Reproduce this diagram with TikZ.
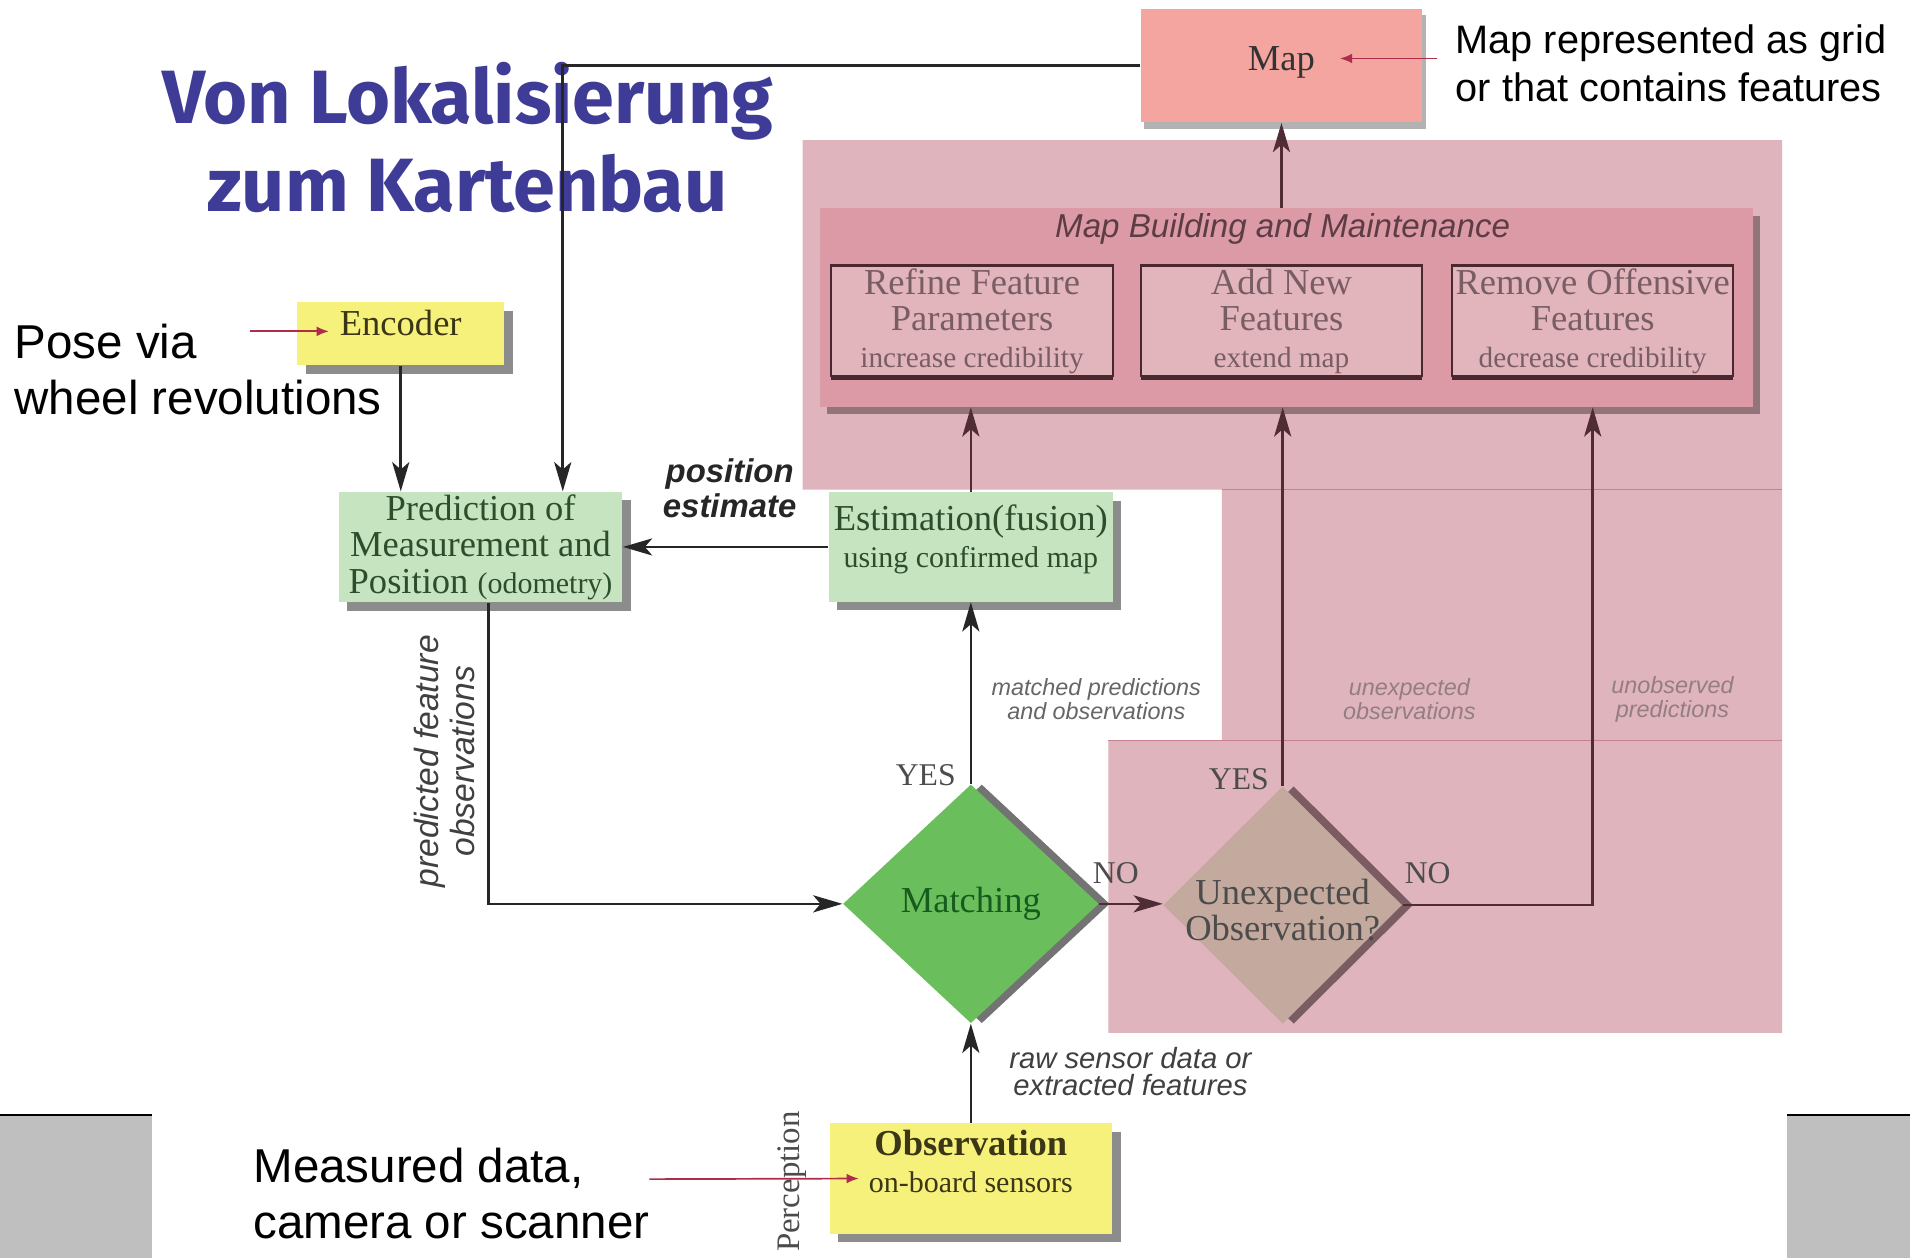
\documentclass[tikz,border=0pt]{standalone}
\usepackage{fontspec}
\setmainfont{Liberation Serif}
\setsansfont{Liberation Sans}
\newfontfamily\titlefont{Fira Sans}
\usetikzlibrary{arrows.meta,calc,shapes.geometric,shadows}
\definecolor{titleblue}{RGB}{62,60,150}
\definecolor{mappink}{RGB}{244,165,160}
\definecolor{zonepink}{RGB}{224,180,188}
\definecolor{zoneline}{RGB}{198,128,144}
\definecolor{buildpink}{RGB}{220,154,166}
\definecolor{taskpink}{RGB}{226,180,188}
\definecolor{taskline}{RGB}{75,40,48}
\definecolor{boxgreen}{RGB}{198,228,192}
\definecolor{greentext}{RGB}{45,78,45}
\definecolor{boxyellow}{RGB}{246,241,122}
\definecolor{yellowtext}{RGB}{58,54,22}
\definecolor{matchgreen}{RGB}{106,190,92}
\definecolor{matchtext}{RGB}{22,92,28}
\definecolor{asktan}{RGB}{196,170,158}
\definecolor{askshade}{RGB}{122,92,98}
\definecolor{mauve}{RGB}{80,45,52}
\definecolor{noteline}{RGB}{175,45,75}
\definecolor{slidegray}{RGB}{191,191,191}
\tikzset{
 zone/.style={fill=zonepink},
 zoneedge/.style={draw=zoneline,line width=.6pt},
 titletext/.style={align=center,text=titleblue,font=\titlefont\bfseries\fontsize{31}{36}\selectfont},
 plainbox/.style={rectangle,inner sep=1pt,align=center,text=black!80,font=\fontsize{15}{15}\selectfont},
 boxshade/.style={drop shadow={shadow xshift=3.5pt,shadow yshift=-3.5pt,fill=black!45,opacity=1}},
 mapbox/.style={plainbox,fill=mappink,minimum width=115.5pt,minimum height=46.5pt,drop shadow={shadow xshift=1.5pt,shadow yshift=-2.5pt,fill=black!30,opacity=1}},
 buildbox/.style={rectangle,fill=buildpink,minimum width=383pt,minimum height=81.5pt,drop shadow={shadow xshift=3pt,shadow yshift=-3pt,fill=black,opacity=.35}},
 buildtitle/.style={text=taskline!90,font=\sffamily\itshape\fontsize{13.6}{14}\selectfont},
 taskbox/.style={plainbox,draw=taskline,line width=.9pt,fill=taskpink,inner sep=0pt,text=taskline!75,minimum width=115.5pt,minimum height=45.5pt,drop shadow={shadow xshift=0pt,shadow yshift=-1.3pt,fill=taskline,opacity=1}},
 greenbox/.style={plainbox,fill=boxgreen,text=greentext,minimum width=116.5pt,minimum height=45pt,boxshade},
 yellowbox/.style={plainbox,fill=boxyellow,text=yellowtext,boxshade},
 matchdiamond/.style={diamond,fill=matchgreen,inner sep=0pt,minimum width=105pt,minimum height=98pt,drop shadow={shadow xshift=4.5pt,shadow yshift=0pt,fill=black!55,opacity=1}},
 askdiamond/.style={diamond,fill=asktan,inner sep=0pt,minimum width=98pt,minimum height=97.5pt,drop shadow={shadow xshift=4.5pt,shadow yshift=0pt,fill=askshade,opacity=1}},
 matchlabel/.style={text=matchtext,font=\fontsize{15}{15}\selectfont},
 asklabel/.style={align=center,text=black!70,font=\fontsize{15}{15}\selectfont},
 flow/.style={draw=black!85,line width=1.1pt,-{Stealth[length=12pt,width=7pt,inset=3pt]}},
 zoneflow/.style={flow,draw=mauve,line width=1pt},
 notearrow/.style={draw=noteline,line width=.7pt,-{Latex[length=5pt,width=4pt]}},
 note/.style={anchor=west,align=left,font=\sffamily\fontsize{16.3}{19.5}\selectfont},
 bignote/.style={anchor=west,align=left,font=\sffamily\fontsize{19.5}{23}\selectfont},
 smalltag/.style={align=center,text=black!60,font=\sffamily\itshape\fontsize{9.6}{10}\selectfont},
 sidetag/.style={align=center,text=black!75,font=\sffamily\itshape\fontsize{12}{11}\selectfont},
 postag/.style={align=center,text=black!85,font=\sffamily\bfseries\itshape\fontsize{13.5}{14.5}\selectfont},
 decide/.style={text=black!70,font=\fontsize{13}{13}\selectfont}
}
\begin{document}
\begin{tikzpicture}[x=.5pt,y=-.5pt]
\path[use as bounding box,fill=white] (0,0) rectangle (1568,1033);
% slide frame
\fill[slidegray] (0,915) rectangle (125,1033);
\fill[slidegray] (1467,915) rectangle (1568,1033);
\draw[line width=.8pt] (0,915) -- (125,915);
\draw[line width=.8pt] (1467,915) -- (1568,915);
% map building zone
\path[zone] (659,115) -- (1463,115) -- (1463,848) -- (910,848) -- (910,608) -- (1003,608) -- (1003,402) -- (659,402) -- cycle;
\draw[zoneedge] (1003,402) -- (1463,402);
\draw[zoneedge] (910,608) -- (1463,608);
% title
\node[titletext] (title) at (384,113) {Von Lokalisierung\\zum Kartenbau};
% boxes
\node[mapbox,text depth=6pt] (map) at (1052,54) {Map};
\node[buildbox] (mbm) at (1056,252.5) {};
\node[buildtitle] (mbmtitle) at (1053,188) {Map Building and Maintenance};
\node[taskbox] (refine) at (798,263.5) {Refine Feature\\Parameters\\{\fontsize{12}{12}\selectfont increase credibility}};
\node[taskbox] (addnew) at (1052,263.5) {Add New\\Features\\{\fontsize{12}{12}\selectfont extend map}};
\node[taskbox] (remove) at (1307.5,263.5) {Remove Offensive\\Features\\{\fontsize{12}{12}\selectfont decrease credibility}};
\node[yellowbox,minimum width=85pt,minimum height=26pt,text depth=9pt] (enc) at (329,274) {Encoder};
\node[greenbox] (pred) at (394.5,449) {Prediction of\\Measurement and\\Position {\fontsize{12.3}{15}\selectfont(odometry)}};
\node[greenbox,text depth=9pt] (est) at (797,449) {Estimation(fusion)\\{\fontsize{12.3}{15}\selectfont using confirmed map}};
\node[yellowbox,minimum width=116pt,minimum height=45.5pt,text depth=14pt] (obs) at (797,967.5) {{\bfseries Observation}\\{\fontsize{12.3}{15}\selectfont on-board sensors}};
\node[matchdiamond] (match) at (797,742) {};
\node[matchlabel] (matchtext) at (match) {Matching};
\node[askdiamond] (ask) at (1053,743) {};
\node[asklabel] (asktext) at ([yshift=-2pt]ask.center) {Unexpected\\Observation?};
% labels
\node[postag] (posest) at (599,401) {position\\estimate};
\node[smalltag] (matchedtag) at (900,574) {matched predictions\\and observations};
\node[smalltag,text=taskline!60] (unexptag) at (1157,574) {unexpected\\observations};
\node[smalltag,text=taskline!60] (unobstag) at (1373,574) {unobserved\\predictions};
\node[sidetag] (rawtag) at (928,880) {raw sensor data or\\extracted features};
\node[sidetag,rotate=90,font=\sffamily\itshape\fontsize{13.8}{15}\selectfont] (predtag) at (365,625) {predicted feature\\observations};
\node[decide] (yesmatch) at (760,636) {YES};
\node[decide] (nomatch) at (916,717) {NO};
\node[decide] (yesask) at (1017,640) {YES};
\node[decide] (noask) at (1172,717) {NO};
\node[decide,rotate=90,font=\fontsize{13.5}{13.5}\selectfont] (perception) at (650,970) {Perception};
% connectors
\draw[flow] (map.west) -| ($(pred.north)+(67.5,0)$);
\draw[flow] (enc.south) -- (enc.south |- pred.north);
\draw[flow] (est.west) -- (pred.east);
\draw[flow] ($(pred.south)+(6.5,0)$) |- (match.west);
\draw[flow] (match.north) -- (est.south);
\draw[flow] (obs.north) -- (match.south);
\draw[zoneflow] (match.east) -- (match.east -| ask.west);
\draw[zoneflow] (est.north) -- (est.north |- mbm.south);
\draw[zoneflow] (ask.north) -- (ask.north |- mbm.south);
\draw[zoneflow] (ask.east) -| (remove.south |- mbm.south);
\draw[zoneflow] (map.south |- mbm.north) -- (map.south);
% notes
\node[note] (mapnote) at (1188,52) {Map represented as grid\\or that contains features};
\node[bignote] (posenote) at (5,303) {Pose via\\wheel revolutions};
\node[bignote] (obsnote) at (201,980) {Measured data,\\camera or scanner};
\coordinate (maptail) at (1180,48);
\coordinate (posetail) at (205,272);
\coordinate (obstail) at (533,968);
\draw[notearrow] (maptail) -- ($(map.center)+(48,-6)$);
\draw[notearrow] (posetail) -- ($(enc.center)+(-59,-2)$);
\draw[notearrow] (obstail) -- ($(obs.center)+(-92,0)$);
\end{tikzpicture}
\end{document}
